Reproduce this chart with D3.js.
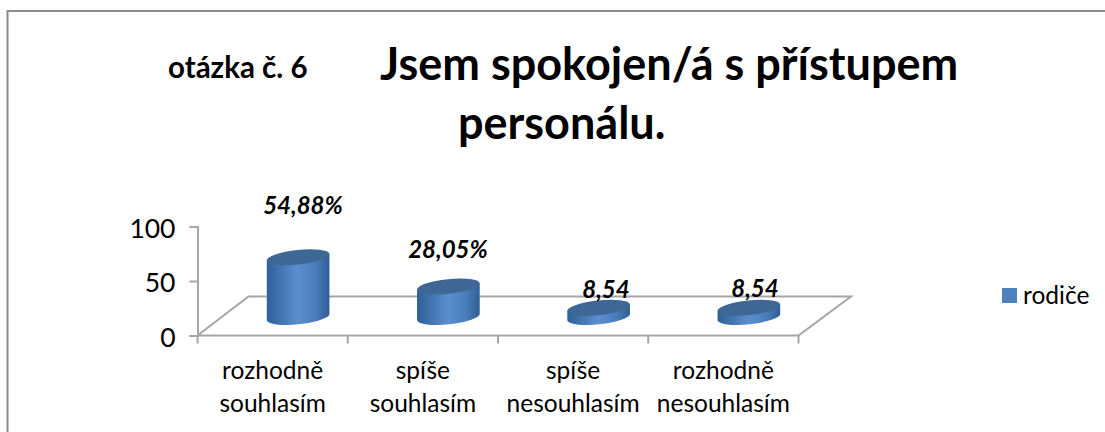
<!DOCTYPE html>
<html><head><meta charset="utf-8">
<script src="https://cdn.jsdelivr.net/npm/d3@7"></script>
<style>html,body{margin:0;padding:0;background:#fff}svg{display:block}text{font-family:Lato,"Open Sans",sans-serif;fill:#000}</style>
</head><body><svg id="c" width="1105" height="432"></svg>
<script>
const categories = [["rozhodně","souhlasím"],["spíše","souhlasím"],["spíše","nesouhlasím"],["rozhodně","nesouhlasím"]];
const values = [54.88,28.05,8.54,8.54];
const valueLabels = ["54,88%","28,05%","8,54","8,54"];
const yTicks = [0,50,100];
const seriesName = "rodiče";

const svg = d3.select("#c");
const defs = svg.append("defs");
const side = defs.append("linearGradient").attr("id","side");
[[0,"#2f5f96"],[0.5,"#5a8fd0"],[0.78,"#4a7cb9"],[1,"#2f5f96"]].forEach(([o,c])=>side.append("stop").attr("offset",o).attr("stop-color",c));

svg.append("path").attr("d","M7.5,432V11H1105").attr("fill","none").attr("stroke","#8c8c8c").attr("stroke-width",2);

const y = d3.scaleLinear().domain([0,100]).range([335.5,226.5]);
const x = d3.scaleBand().domain(d3.range(4)).range([197.5,798.5]);
const gray="#a6a6a6";
const dx=51, dy=-39;
const base=y(0);
// floor
svg.append("path").attr("d",`M${x.range()[0]},${base}L${x.range()[0]+dx},${base+dy}H${x.range()[1]+dx+1.5}L${x.range()[1]},${base}Z`).attr("fill","none").attr("stroke",gray).attr("stroke-width",2);
// axes
const ga=svg.append("g").attr("transform",`translate(${x.range()[0]},0)`).call(d3.axisLeft(y).tickValues(yTicks).tickSize(8).tickPadding(14).tickFormat(d3.format("d")));
ga.selectAll("path,line").attr("stroke",gray).attr("stroke-width",2);
ga.selectAll("text").attr("font-size",26.5).attr("dy","0.41em").style("font-family","Lato");
const gx=svg.append("g");
x.domain().concat([4]).forEach(i=>{const px=i<4?x(i):x.range()[1];gx.append("line").attr("x1",px).attr("x2",px).attr("y1",base).attr("y2",base+8).attr("stroke",gray).attr("stroke-width",2);});

// cylinders
const rx=31.5, ry=7.3, rot=-6, floorOff=18.5, depthX=25.5;
const g=svg.selectAll("g.cyl").data(values).join("g").attr("class","cyl")
 .attr("transform",(d,i)=>`translate(${x(i)+x.bandwidth()/2+depthX},${base-floorOff})`);
g.append("path").attr("fill","url(#side)").attr("d",d=>{
  const h=base-y(d);
  const a=rot*Math.PI/180, ex=rx*Math.cos(a), ey=rx*Math.sin(a);
  return `M${-ex},${-ey-h}L${-ex},${-ey}A${rx},${ry} ${rot} 0 0 ${ex},${ey}L${ex},${ey-h}Z`;
});
g.append("ellipse").attr("rx",rx).attr("ry",ry).attr("cy",d=>-(base-y(d))).attr("fill","#3e6795")
 .attr("transform",d=>`rotate(${rot},0,${-(base-y(d))})`);

// value labels
const lblX=[303,448,606,755], lblY=[214,258,298,297];
svg.selectAll("text.v").data(valueLabels).join("text").attr("class","v")
 .attr("text-anchor","middle").attr("font-size",24).attr("font-weight",700).attr("font-style","italic")
 .attr("x",(d,i)=>lblX[i]).attr("y",(d,i)=>lblY[i]).text(d=>d);

// category labels
const cat=svg.selectAll("text.cat").data(categories).join("text").attr("class","cat").attr("text-anchor","middle").attr("font-size",24.5);
cat.selectAll("tspan").data((d,i)=>d.map(t=>({t,i}))).join("tspan")
 .attr("x",d=>x(d.i)+x.bandwidth()/2).attr("y",(d,j)=>379+j*33).text(d=>d.t);

// title
svg.append("text").attr("x",168).attr("y",78).attr("font-size",29.5).attr("font-weight",700).text("otázka č. 6");
svg.append("text").attr("x",380).attr("y",80).attr("font-size",45).attr("font-weight",700).text("Jsem spokojen/á s přístupem");
svg.append("text").attr("x",458).attr("y",139).attr("font-size",45).attr("font-weight",700).text("personálu.");

// legend
svg.append("rect").attr("x",1002).attr("y",288).attr("width",15).attr("height",15).attr("fill","#4f81bd");
svg.append("text").attr("x",1023).attr("y",304).attr("font-size",24.5).text(seriesName);
</script></body></html>
